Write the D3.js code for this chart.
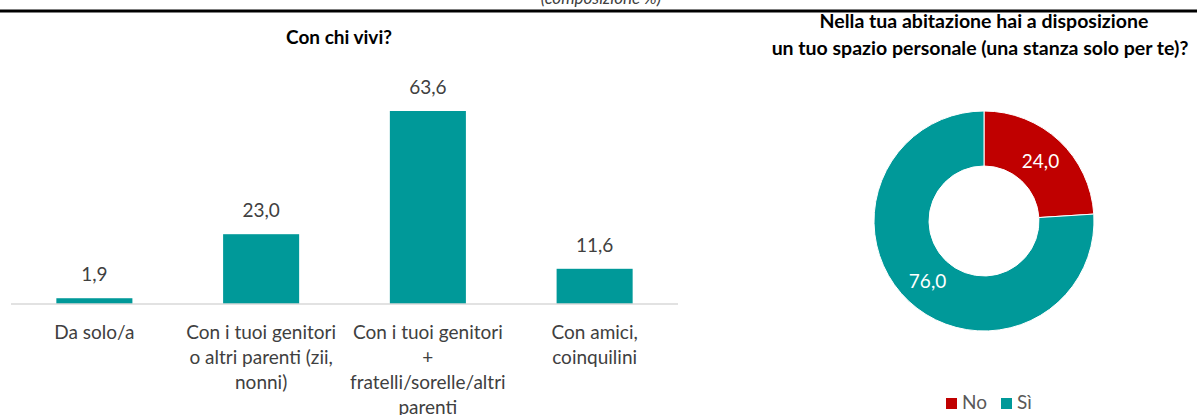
<!DOCTYPE html>
<html>
<head>
<meta charset="utf-8">
<script src="https://cdn.jsdelivr.net/npm/d3@7"></script>
<style>
  body { margin: 0; background: #fff; }
  svg { display: block; font-family: Lato, "Open Sans", sans-serif; }
</style>
</head>
<body>
<div id="chart"></div>
<script>
// bar chart data
var categories = [
  ["Da solo/a"],
  ["Con i tuoi genitori", "o altri parenti (zii,", "nonni)"],
  ["Con i tuoi genitori", "+", "fratelli/sorelle/altri", "parenti"],
  ["Con amici,", "coinquilini"]
];
var values = [1.9, 23.0, 63.6, 11.6];

// donut data
var donutLabels = ["No", "Sì"];
var donutValues = [24.0, 76.0];
var donutColors = ["#c00000", "#009999"];

var fmt = function (v) { return d3.format(".1f")(v).replace(".", ","); };

var svg = d3.select("#chart").append("svg").attr("width", 1197).attr("height", 415);

// subtitle cut at the top + rule
svg.append("text").attr("x", 601).attr("y", 4).attr("text-anchor", "middle")
  .attr("font-size", 17).attr("font-style", "italic").attr("fill", "#404040")
  .text("(composizione %)");
svg.append("line").attr("x1", 0).attr("x2", 1197).attr("y1", 11).attr("y2", 11)
  .attr("stroke", "#000").attr("stroke-width", 3);

// ---- bar chart ----
var x = d3.scaleBand().domain(d3.range(values.length)).range([11, 678])
  .paddingInner(0.544).paddingOuter(0.272);
var y = d3.scaleLinear().domain([0, 63.6]).range([304, 111]);

svg.append("text").attr("x", 339).attr("y", 44).attr("text-anchor", "middle")
  .attr("font-size", 19).attr("font-weight", "bold").attr("fill", "#000")
  .text("Con chi vivi?");

svg.selectAll("rect.bar").data(values).enter().append("rect")
  .attr("class", "bar")
  .attr("x", function (d, i) { return x(i); })
  .attr("width", x.bandwidth())
  .attr("y", function (d) { return y(d); })
  .attr("height", function (d) { return y(0) - y(d); })
  .attr("fill", "#009999");

svg.selectAll("text.val").data(values).enter().append("text")
  .attr("class", "val")
  .attr("x", function (d, i) { return x(i) + x.bandwidth() / 2; })
  .attr("y", function (d) { return y(d) - 17; })
  .attr("text-anchor", "middle").attr("font-size", 19).attr("fill", "#404040")
  .text(fmt);

var xAxis = svg.append("g").attr("transform", "translate(0,304)")
  .call(d3.axisBottom(x).tickSize(0).tickFormat(""));
xAxis.select(".domain").attr("stroke", "#d9d9d9").attr("stroke-width", 1.5).attr("d", "M11,0H678");

categories.forEach(function (lines, i) {
  var t = svg.append("text").attr("text-anchor", "middle")
    .attr("font-size", 19).attr("fill", "#404040");
  lines.forEach(function (l, j) {
    t.append("tspan").attr("x", x(i) + x.bandwidth() / 2).attr("y", 339 + j * 25).text(l);
  });
});

// ---- donut ----
var cx = 984, cy = 221;
var title = svg.append("text").attr("text-anchor", "middle")
  .attr("font-size", 19.5).attr("font-weight", "bold").attr("fill", "#000");
title.append("tspan").attr("x", 984).attr("y", 28).text("Nella tua abitazione hai a disposizione");
title.append("tspan").attr("x", 980).attr("y", 55).text("un tuo spazio personale (una stanza solo per te)?");

var pie = d3.pie().sort(null).value(function (d) { return d; });
var arc = d3.arc().innerRadius(55).outerRadius(110);
var g = svg.append("g").attr("transform", "translate(" + cx + "," + cy + ")");
var arcs = pie(donutValues);
g.selectAll("path").data(arcs).enter().append("path")
  .attr("d", arc)
  .attr("fill", function (d, i) { return donutColors[i]; })
  .attr("stroke", "#fff").attr("stroke-width", 1);
g.selectAll("text").data(arcs).enter().append("text")
  .attr("transform", function (d) { return "translate(" + arc.centroid(d) + ")"; })
  .attr("dy", "0.35em").attr("text-anchor", "middle")
  .attr("font-size", 19).attr("fill", "#fff")
  .text(function (d) { return fmt(d.data); });

// legend
var legendX = [946, 1001];
donutLabels.forEach(function (l, i) {
  svg.append("rect").attr("x", legendX[i]).attr("y", 398).attr("width", 11).attr("height", 11)
    .attr("fill", donutColors[i]);
  svg.append("text").attr("x", legendX[i] + 16).attr("y", 409)
    .attr("font-size", 19).attr("fill", "#595959").text(l);
});
</script>
</body>
</html>
